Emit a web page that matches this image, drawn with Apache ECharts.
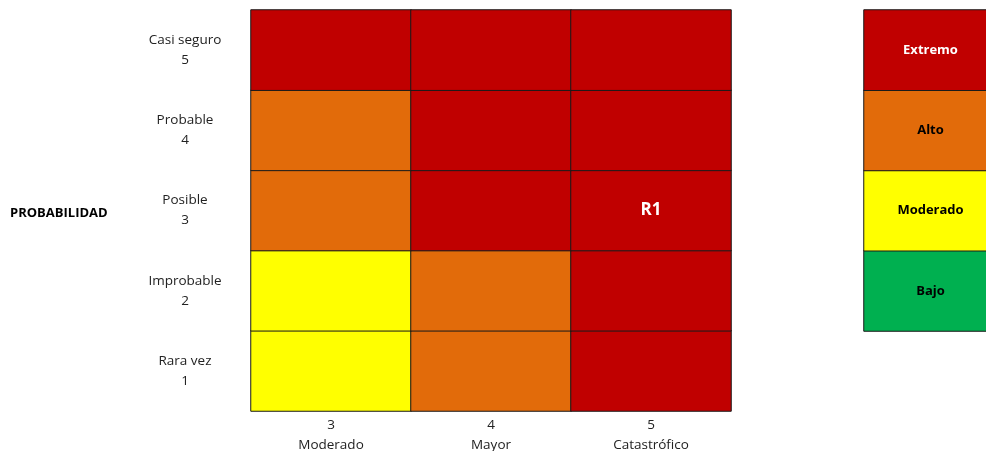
<!DOCTYPE html>
<html>
<head>
<meta charset="utf-8">
<script src="https://cdn.jsdelivr.net/npm/echarts@6/dist/echarts.min.js"></script>
<style>
  html, body { margin: 0; padding: 0; background: #fff; }
  #chart { width: 986px; height: 451px; }
</style>
</head>
<body>
<div id="chart"></div>
<script>
// ejes de la matriz
const impactLabels = ['3\nModerado', '4\nMayor', '5\nCatastrófico'];
const probLabels = ['Rara vez\n1', 'Improbable\n2', 'Posible\n3', 'Probable\n4', 'Casi seguro\n5'];

// nivel de riesgo por fila (1 Bajo, 2 Moderado, 3 Alto, 4 Extremo), columnas 3,4,5
const rowRaraVez = [2, 3, 4];
const rowImprobable = [2, 3, 4];
const rowPosible = [3, 4, 4];
const rowProbable = [3, 4, 4];
const rowCasiSeguro = [4, 4, 4];

// riesgos ubicados en la matriz: [columna, fila, nombre]
const risks = [[2, 2, 'R1']];

// leyenda de niveles
const levelNames = ['Bajo', 'Moderado', 'Alto', 'Extremo'];
const levelValues = [1, 2, 3, 4];
const levelColors = ['#00B050', '#FFFF00', '#E26B0A', '#C00000'];

const rows = [rowRaraVez, rowImprobable, rowPosible, rowProbable, rowCasiSeguro];
const matrixData = [];
rows.forEach((row, y) => {
  row.forEach((v, x) => {
    const risk = risks.find(r => r[0] === x && r[1] === y);
    const item = { value: [x, y, v] };
    if (risk) {
      item.label = { show: true, formatter: risk[2] };
    }
    matrixData.push(item);
  });
});

const legendData = levelValues.map((v, i) => ({
  value: [0, i, v],
  label: { color: v === 4 ? '#fff' : '#000' }
}));

const font = 'Open Sans';

const option = {
  animation: false,
  title: {
    text: 'PROBABILIDAD',
    left: 5,
    top: 202,
    textStyle: { fontFamily: font, fontSize: 13, fontWeight: 'bold', color: '#000' }
  },
  visualMap: {
    show: false,
    type: 'piecewise',
    dimension: 2,
    seriesIndex: [0, 1],
    pieces: levelValues.map((v, i) => ({ value: v, color: levelColors[i] }))
  },
  grid: [
    { left: 251, top: 10, width: 480, height: 401, outerBoundsMode: 'none' },
    { left: 864, top: 10, width: 133, height: 321, outerBoundsMode: 'none' }
  ],
  xAxis: [
    {
      type: 'category',
      gridIndex: 0,
      data: impactLabels,
      axisLine: { show: false },
      axisTick: { show: false },
      splitLine: { show: false },
      axisLabel: { margin: 4, fontFamily: font, fontSize: 13.5, lineHeight: 20, color: '#222' }
    },
    {
      type: 'category',
      gridIndex: 1,
      data: [''],
      show: false
    }
  ],
  yAxis: [
    {
      type: 'category',
      gridIndex: 0,
      data: probLabels,
      axisLine: { show: false },
      axisTick: { show: false },
      splitLine: { show: false },
      axisLabel: { align: 'center', margin: 66, fontFamily: font, fontSize: 13.5, lineHeight: 20, color: '#222' }
    },
    {
      type: 'category',
      gridIndex: 1,
      data: levelNames,
      show: false
    }
  ],
  series: [
    {
      type: 'heatmap',
      xAxisIndex: 0,
      yAxisIndex: 0,
      data: matrixData,
      itemStyle: { borderColor: '#1a1a1a', borderWidth: 1 },
      label: {
        show: false,
        color: '#fff',
        fontFamily: font,
        fontSize: 17,
        fontWeight: 'bold'
      },
      emphasis: { disabled: true }
    },
    {
      type: 'heatmap',
      xAxisIndex: 1,
      yAxisIndex: 1,
      data: legendData,
      itemStyle: { borderColor: '#1a1a1a', borderWidth: 1 },
      label: {
        show: true,
        formatter: p => levelNames[p.value[1]],
        fontFamily: font,
        fontSize: 13,
        fontWeight: 'bold'
      },
      emphasis: { disabled: true }
    }
  ]
};

const chart = echarts.init(document.getElementById('chart'));
chart.setOption(option);
window.addEventListener('resize', () => {
  chart.resize();
});
</script>
</body>
</html>
